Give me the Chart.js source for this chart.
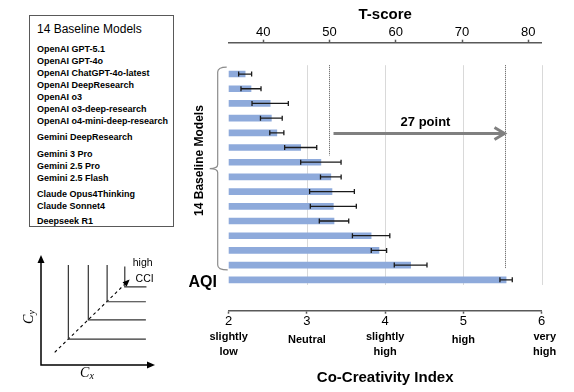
<!DOCTYPE html>
<html>
<head>
<meta charset="utf-8">
<script src="https://cdn.jsdelivr.net/npm/chart.js@4.4.1/dist/chart.umd.min.js"></script>
<style>
  html, body { margin: 0; padding: 0; background: #fff; }
  body { width: 574px; height: 392px; position: relative; overflow: hidden; font-family: "Liberation Sans", Arial, sans-serif; color: #000; }
  #main { position: absolute; left: 0; top: 0; }
  #mini { position: absolute; left: 0; top: 240px; }
  #legendBox { position: absolute; left: 29px; top: 15px; width: 145px; height: 212px; box-sizing: border-box;
               border: 1px solid #595959; padding: 5px 0 0 7px; background: #fff; }
  #legendBox .title { font-size: 12px; line-height: 16px; }
  #legendBox .list { margin-top: 6px; }
  #legendBox .item { font-size: 9px; font-weight: bold; line-height: 12px; white-space: nowrap; }
</style>
</head>
<body>
<canvas id="main" width="574" height="392"></canvas>
<div id="legendBox"><div class="title"></div><div class="list"></div></div>
<canvas id="mini" width="180" height="152"></canvas>
<script>
// bar values, Co-Creativity Index (top row first, AQI last)
const cci = [2.21, 2.285, 2.53, 2.545, 2.615, 2.92, 3.178, 3.305, 3.32, 3.337, 3.346, 3.82, 3.92, 4.325, 5.545];
// half width of the error bars
const err = [0.083, 0.128, 0.232, 0.139, 0.09, 0.205, 0.258, 0.132, 0.286, 0.294, 0.188, 0.239, 0.098, 0.209, 0.079];

const groupLabel = '14 Baseline Models';
const lastLabel = 'AQI';

const cciTicks = [2, 3, 4, 5, 6];
const cciWords = [['slightly', 'low'], ['Neutral'], ['slightly', 'high'], ['high'], ['very', 'high']];
const tTicks = [40, 50, 60, 70, 80];
const tRef = 50;
const deltaLabel = '27 point';

const modelGroups = [
  ['OpenAI GPT-5.1', 'OpenAI GPT-4o', 'OpenAI ChatGPT-4o-latest', 'OpenAI DeepResearch', 'OpenAI o3',
   'OpenAI o3-deep-research', 'OpenAI o4-mini-deep-research'],
  ['Gemini DeepResearch'],
  ['Gemini 3 Pro', 'Gemini 2.5 Pro', 'Gemini 2.5 Flash'],
  ['Claude Opus4Thinking', 'Claude Sonnet4'],
  ['Deepseek R1']
];
const groupGaps = [0, 4, 5, 4, 3];

// little CCI sketch: corners of the L lines, and the dashed direction line
const cornerX = [2.4, 4.15, 5.8, 7.35];
const cornerY = [2.35, 4.1, 5.75, 7.1];
const lineTop = [9.1, 9.1, 9.1, 8.95];
const lineRight = [9.2, 9.2, 9.2, 9.25];
const diagX = [1.2, 7.65];
const diagY = [1.15, 7.65];

// legend box text
document.querySelector('#legendBox .title').textContent = groupLabel;
const list = document.querySelector('#legendBox .list');
modelGroups.forEach((g, gi) => {
  g.forEach((name, ni) => {
    const d = document.createElement('div');
    d.className = 'item';
    d.textContent = name;
    if (ni === 0) d.style.marginTop = groupGaps[gi] + 'px';
    list.appendChild(d);
  });
});

const FONT = '"Liberation Sans", Arial, sans-serif';
const AXIS = '#595959';

const overlay = {
  id: 'overlay',
  beforeDatasetsDraw(chart) {
    const { ctx, scales: { x, y } } = chart;
    ctx.save();
    ctx.strokeStyle = '#d9d9d9';
    ctx.lineWidth = 1;
    cciTicks.slice(1).forEach(v => {
      const px = Math.round(x.getPixelForValue(v)) + 0.5;
      ctx.beginPath();
      ctx.moveTo(px, y.getPixelForValue(-0.6));
      ctx.lineTo(px, y.getPixelForValue(14.35));
      ctx.stroke();
    });
    ctx.restore();
  },
  afterDatasetsDraw(chart) {
    const { ctx, scales: { x, x2, y } } = chart;
    ctx.save();
    // error bars
    ctx.strokeStyle = '#1a1a1a';
    ctx.lineWidth = 1.3;
    cci.forEach((v, i) => {
      const py = y.getPixelForValue(i);
      const a = x.getPixelForValue(v - err[i]);
      const b = x.getPixelForValue(v + err[i]);
      ctx.beginPath();
      ctx.moveTo(a, py); ctx.lineTo(b, py);
      ctx.moveTo(a, py - 2.5); ctx.lineTo(a, py + 2.5);
      ctx.moveTo(b, py - 2.5); ctx.lineTo(b, py + 2.5);
      ctx.stroke();
    });
    // dotted reference lines: T = 50 and the AQI value
    const xRef = Math.round(x2.getPixelForValue(tRef)) - 0.5;
    const xAqi = Math.round(x.getPixelForValue(cci[cci.length - 1])) - 0.5;
    ctx.strokeStyle = '#555';
    ctx.lineWidth = 1;
    ctx.setLineDash([1, 1]);
    ctx.beginPath();
    ctx.moveTo(xRef, y.getPixelForValue(-0.6)); ctx.lineTo(xRef, y.getPixelForValue(5.55));
    ctx.moveTo(xAqi, y.getPixelForValue(-0.6)); ctx.lineTo(xAqi, y.getPixelForValue(13.2));
    ctx.stroke();
    ctx.setLineDash([]);
    // arrow between them
    const ay = y.getPixelForValue(4.05);
    const a0 = xRef + 4, a1 = xAqi;
    ctx.strokeStyle = '#808080';
    ctx.lineWidth = 3;
    ctx.beginPath();
    ctx.moveTo(a0, ay); ctx.lineTo(a1 - 2, ay);
    ctx.stroke();
    ctx.lineJoin = 'miter';
    ctx.beginPath();
    ctx.moveTo(a1 - 11, ay - 6); ctx.lineTo(a1 - 1, ay); ctx.lineTo(a1 - 11, ay + 6);
    ctx.stroke();
    ctx.fillStyle = '#000';
    ctx.font = 'bold 13px ' + FONT;
    ctx.textAlign = 'center';
    ctx.textBaseline = 'alphabetic';
    ctx.fillText(deltaLabel, (a0 + a1) / 2 + 6, ay - 7.5);
    ctx.restore();
  },
  afterDraw(chart) {
    const { ctx, chartArea, scales: { x, y } } = chart;
    const left = chartArea.left;
    ctx.save();
    // brace round the 14 baseline rows
    const top = y.getPixelForValue(-0.47);
    const bot = y.getPixelForValue(13.33);
    const mid = (top + bot) / 2;
    const bx = left - 11;
    ctx.strokeStyle = '#8c8c8c';
    ctx.lineWidth = 1.2;
    ctx.beginPath();
    ctx.moveTo(left - 2, top);
    ctx.quadraticCurveTo(bx, top, bx, top + 5);
    ctx.lineTo(bx, mid - 4);
    ctx.quadraticCurveTo(bx, mid, bx - 8, mid);
    ctx.quadraticCurveTo(bx, mid, bx, mid + 4);
    ctx.lineTo(bx, bot - 5);
    ctx.quadraticCurveTo(bx, bot, left - 1, bot);
    ctx.stroke();
    // row labels
    ctx.fillStyle = '#000';
    ctx.font = 'bold 12px ' + FONT;
    ctx.textAlign = 'center';
    ctx.textBaseline = 'middle';
    ctx.save();
    ctx.translate(left - 29, mid - 8);
    ctx.rotate(-Math.PI / 2);
    ctx.fillText(groupLabel, 0, 0);
    ctx.restore();
    ctx.font = 'bold 16px ' + FONT;
    ctx.fillText(lastLabel, left - 26, y.getPixelForValue(cci.length - 1) + 3);
    // words under the CCI ticks
    ctx.font = 'bold 11px ' + FONT;
    cciTicks.forEach((v, i) => {
      const lines = cciWords[i];
      const px = x.getPixelForValue(v);
      const y0 = lines.length === 1 ? 340 : 337;
      lines.forEach((t, j) => ctx.fillText(t, px + (i === 4 ? 3 : 0), y0 + j * 14.5));
    });
    ctx.restore();
  }
};

new Chart(document.getElementById('main'), {
  type: 'bar',
  data: {
    datasets: [{
      data: cci.map((v, i) => ({ x: v, y: i })),
      backgroundColor: '#8eaadb',
      barThickness: 6,
      xAxisID: 'x',
      yAxisID: 'y'
    }]
  },
  options: {
    indexAxis: 'y',
    responsive: false,
    animation: false,
    layout: { padding: { left: 228.7, right: 32.3, top: 0, bottom: 0 } },
    plugins: { legend: { display: false }, tooltip: { enabled: false } },
    scales: {
      x: {
        type: 'linear', position: 'bottom', min: 2, max: 6,
        afterBuildTicks: s => { s.ticks = cciTicks.map(v => ({ value: v })); },
        afterFit: s => { s.height = 81.3; },
        ticks: { color: '#000', font: { family: FONT, size: 13 }, padding: 0, maxRotation: 0 },
        grid: { drawOnChartArea: false, drawTicks: true, tickLength: 3, tickColor: AXIS, tickWidth: 1.5 },
        border: { display: true, color: AXIS, width: 1.5 },
        title: { display: true, text: 'Co-Creativity Index', color: '#000',
                 font: { family: FONT, size: 15, weight: 'bold' }, padding: { top: 0, bottom: 5 } }
      },
      x2: {
        type: 'linear', position: 'top', axis: 'x', min: 34.78, max: 82.02,
        afterBuildTicks: s => { s.ticks = tTicks.map(v => ({ value: v })); },
        afterFit: s => { s.height = 42.7; },
        ticks: { color: '#000', font: { family: FONT, size: 13 }, padding: -1, maxRotation: 0 },
        grid: { drawOnChartArea: false, drawTicks: true, tickLength: 3, tickColor: AXIS, tickWidth: 1.5 },
        border: { display: true, color: AXIS, width: 1.5 },
        title: { display: true, text: 'T-score', color: '#000',
                 font: { family: FONT, size: 15, weight: 'bold' }, padding: { top: 6, bottom: 0 } }
      },
      y: { type: 'linear', reverse: true, min: -1.22, max: 15.19, display: false }
    }
  },
  plugins: [overlay]
});

// small sketch of the CCI idea
const sketch = {
  id: 'sketch',
  afterDraw(chart) {
    const { ctx, chartArea: ca, scales: { x, y } } = chart;
    ctx.save();
    ctx.strokeStyle = '#000';
    ctx.fillStyle = '#000';
    ctx.lineWidth = 1.5;
    ctx.beginPath();
    ctx.moveTo(ca.left, ca.top + 4); ctx.lineTo(ca.left, ca.bottom); ctx.lineTo(ca.right - 4, ca.bottom);
    ctx.stroke();
    ctx.beginPath();
    ctx.moveTo(ca.left, ca.top); ctx.lineTo(ca.left - 3.5, ca.top + 8); ctx.lineTo(ca.left + 3.5, ca.top + 8);
    ctx.closePath(); ctx.fill();
    ctx.beginPath();
    ctx.moveTo(ca.right, ca.bottom); ctx.lineTo(ca.right - 8, ca.bottom - 3.5); ctx.lineTo(ca.right - 8, ca.bottom + 3.5);
    ctx.closePath(); ctx.fill();
    // arrow head on the dashed line
    const tx = x.getPixelForValue(diagX[1]), ty = y.getPixelForValue(diagY[1]);
    const ang = Math.atan2(ty - y.getPixelForValue(diagY[0]), tx - x.getPixelForValue(diagX[0]));
    ctx.translate(tx, ty);
    ctx.rotate(ang);
    ctx.beginPath();
    ctx.moveTo(2, 0); ctx.lineTo(-5, -3); ctx.lineTo(-5, 3);
    ctx.closePath(); ctx.fill();
    ctx.setTransform(1, 0, 0, 1, 0, 0);
    ctx.font = '10.5px ' + FONT;
    ctx.textAlign = 'left';
    ctx.textBaseline = 'middle';
    ctx.fillText('high', x.getPixelForValue(8.05), y.getPixelForValue(9.3));
    ctx.fillText('CCI', x.getPixelForValue(8.3), y.getPixelForValue(7.8));
    // axis names
    const serif = '"Liberation Serif", "DejaVu Serif", serif';
    ctx.textAlign = 'left';
    ctx.textBaseline = 'alphabetic';
    ctx.font = 'italic 14px ' + serif;
    ctx.fillText('C', 80, 137);
    ctx.font = 'italic 10px ' + serif;
    ctx.fillText('x', 89.5, 139);
    ctx.translate(33, 78);
    ctx.rotate(-Math.PI / 2);
    ctx.font = 'italic 14px ' + serif;
    ctx.fillText('C', -6, 0);
    ctx.font = 'italic 10px ' + serif;
    ctx.fillText('y', 3.5, 2);
    ctx.restore();
  }
};

const lineSets = cornerX.map((cx, i) => ({
  data: [{ x: cx, y: lineTop[i] }, { x: cx, y: cornerY[i] }, { x: lineRight[i], y: cornerY[i] }],
  borderColor: '#333', borderWidth: 1.2, pointRadius: 0, showLine: true, fill: false, tension: 0
}));
lineSets.push({
  data: diagX.map((v, i) => ({ x: v, y: diagY[i] })),
  borderColor: '#000', borderWidth: 1.1, borderDash: [3, 3], pointRadius: 0, showLine: true, fill: false
});

new Chart(document.getElementById('mini'), {
  type: 'scatter',
  data: { datasets: lineSets },
  options: {
    responsive: false,
    animation: false,
    layout: { padding: { left: 41, right: 25, top: 15, bottom: 27 } },
    plugins: { legend: { display: false }, tooltip: { enabled: false } },
    scales: {
      x: { type: 'linear', min: 0, max: 10, display: false },
      y: { type: 'linear', min: 0, max: 10, display: false }
    }
  },
  plugins: [sketch]
});
</script>
</body>
</html>
